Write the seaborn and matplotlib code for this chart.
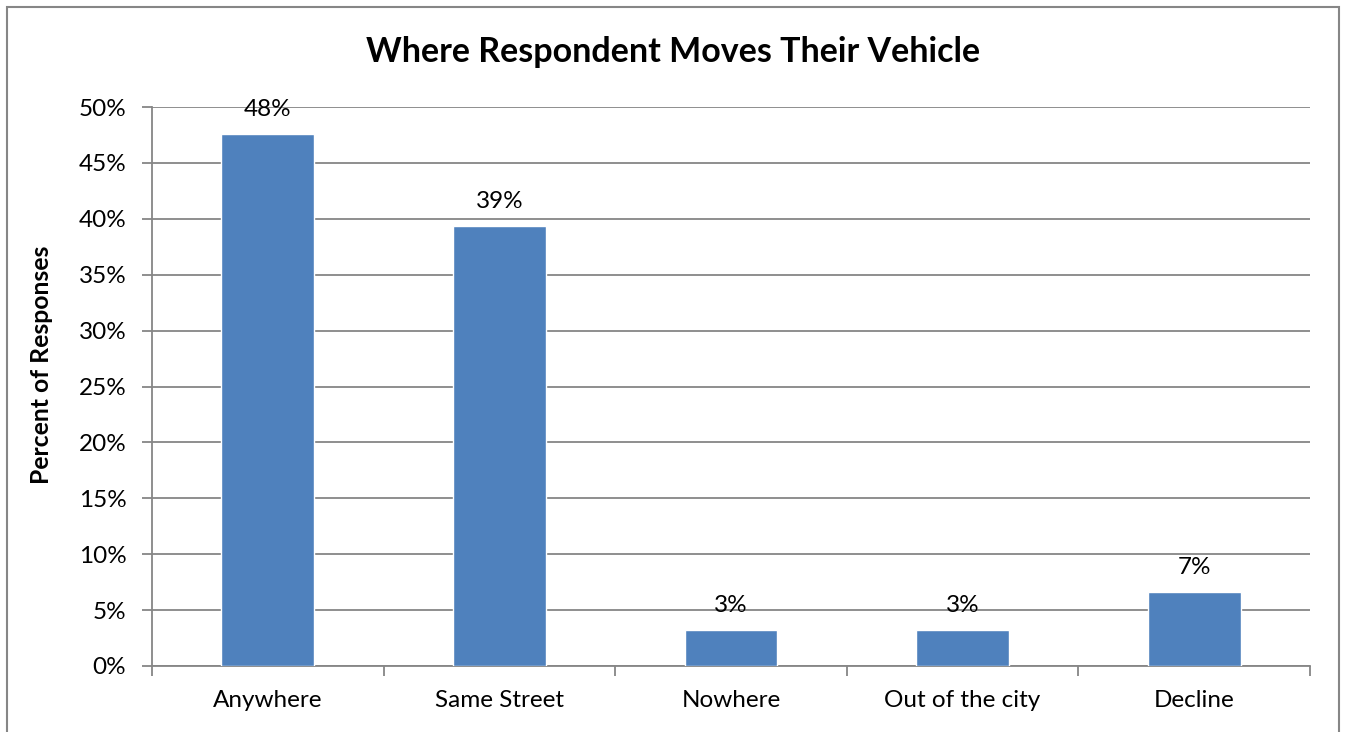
import matplotlib
matplotlib.use("Agg")
import matplotlib.pyplot as plt
import seaborn as sns
import pandas as pd
from matplotlib.patches import Rectangle
from matplotlib.ticker import MultipleLocator, FuncFormatter

categories = ["Anywhere", "Same Street", "Nowhere", "Out of the city", "Decline"]
values = [47.6, 39.4, 3.2, 3.2, 6.6]
bar_labels = ["48%", "39%", "3%", "3%", "7%"]

sns.set_theme(style="white")
plt.rcParams['font.family'] = ['Lato', 'DejaVu Sans']
plt.rcParams['text.color'] = 'black'
plt.rcParams['xtick.color'] = 'black'
plt.rcParams['ytick.color'] = 'black'

df = pd.DataFrame({"Category": categories, "Percent": values})

fig = plt.figure(figsize=(13.46, 7.32), dpi=100)
ax = fig.add_axes([152/1346, 1-666/732, (1310-152)/1346, (666-107)/732])

grid_c = "#868686"
sns.barplot(data=df, x="Category", y="Percent", color="#4F81BD", saturation=1,
            width=0.4, ax=ax, zorder=3)

ax.set_ylim(0, 50)
ax.set_xlim(-0.5, len(categories) - 0.5)
ax.yaxis.set_major_locator(MultipleLocator(5))
ax.yaxis.set_major_formatter(FuncFormatter(lambda v, p: f"{v:.0f}%"))
ax.grid(axis="y", color=grid_c, linewidth=1.3, zorder=0)
ax.set_axisbelow(True)

for s in ["top", "right"]:
    ax.spines[s].set_visible(False)
for s in ["left", "bottom"]:
    ax.spines[s].set_color(grid_c)
    ax.spines[s].set_linewidth(1.3)

ax.tick_params(axis="y", length=7, width=1.3, color=grid_c, labelsize=17.5,
               labelcolor="black", pad=11.5, left=True)
ax.tick_params(axis="x", length=0, labelsize=17.5, labelcolor="black", pad=17)
# category separator ticks
ax.set_xticks([i - 0.5 for i in range(len(categories) + 1)], minor=True)
ax.tick_params(axis="x", which="minor", length=7, width=1.3, color=grid_c, bottom=True)

ax.bar_label(ax.containers[0], labels=bar_labels, padding=10, fontsize=17.5, color="black")

ax.set_xlabel("")
ax.set_ylabel("")
fig.text(42/1346, 1-365/732, "Percent of Responses", rotation=90,
         ha="center", va="center", fontsize=17.8, fontweight="bold", color="black")
fig.text(0.5, 1-52/732, "Where Respondent Moves Their Vehicle",
         ha="center", va="center", fontsize=24.5, fontweight="bold", color="black")

fig.patches.append(Rectangle((7/1346, -0.05), (1339-7)/1346, 1.05 - 7/732,
                             transform=fig.transFigure, fill=False,
                             edgecolor="#868686", linewidth=1.5))

fig.savefig("out.png", dpi=100)
